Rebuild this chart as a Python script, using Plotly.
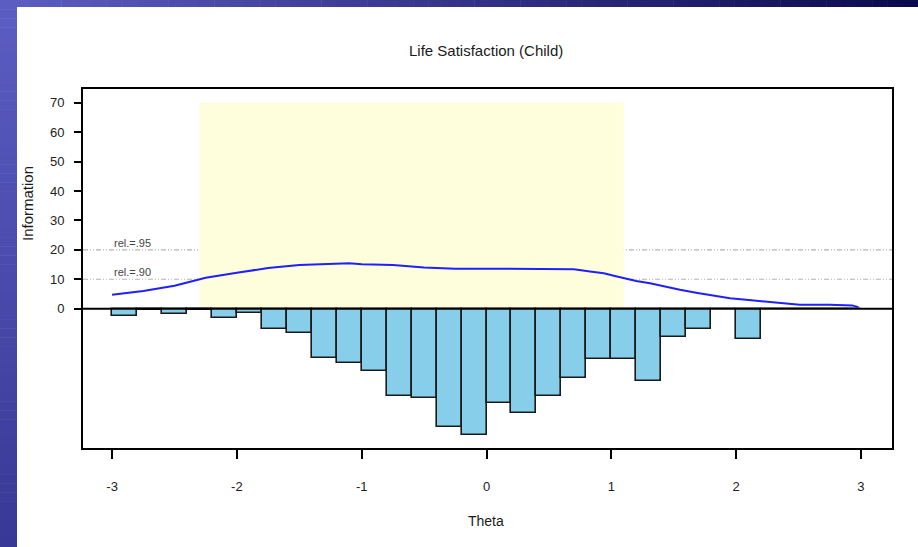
import plotly.graph_objects as go

# ---------------- data ----------------
bar_left_edges = [-3.0, -2.8, -2.6, -2.4, -2.2, -2.0, -1.8, -1.6, -1.4, -1.2,
                  -1.0, -0.8, -0.6, -0.4, -0.2, 0.0, 0.2, 0.4, 0.6, 0.8,
                  1.0, 1.2, 1.4, 1.6, 1.8, 2.0, 2.2, 2.4, 2.6, 2.8]
bar_values = [-2.4, -0.4, -1.8, -0.4, -3.3, -1.6, -6.9, -8.4, -16.7, -18.6,
              -21.2, -29.7, -30.3, -40.3, -43.1, -32.2, -35.4, -29.6, -23.7, -17.1,
              -17.1, -24.5, -9.5, -6.9, 0.0, -10.3, 0.0, 0.0, 0.0, 0.0]
bar_width = 0.2

info_theta = [-3.0, -2.75, -2.5, -2.25, -2.0, -1.75, -1.5, -1.25, -1.1, -1.0,
              -0.75, -0.5, -0.25, 0.0, 0.25, 0.5, 0.7, 0.83, 0.94, 1.02,
              1.1, 1.2, 1.31, 1.42, 1.55, 1.68, 1.82, 1.95, 2.08, 2.22,
              2.35, 2.51, 2.75, 2.93, 2.98]
info_values = [4.7, 6.0, 7.8, 10.5, 12.2, 13.8, 14.8, 15.1, 15.4, 15.1,
               14.8, 14.0, 13.6, 13.6, 13.6, 13.6, 13.4, 12.6, 12.0, 11.2,
               10.3, 9.4, 8.6, 7.5, 6.4, 5.4, 4.4, 3.5, 3.0, 2.4,
               1.8, 1.3, 1.3, 1.1, 0.5]

rel_levels = [20, 10]
rel_labels = ["rel.=.95", "rel.=.90"]
region_theta = [-2.3, 1.1]
region_info = [0, 70]

x_ticks = [-3, -2, -1, 0, 1, 2, 3]
x_tick_labels = ["-3", "-2", "-1", "0", "1", "2", "3"]
y_ticks = [0, 10, 20, 30, 40, 50, 60, 70]
y_tick_labels = ["0", "10", "20", "30", "40", "50", "60", "70"]

title_text = "Life Satisfaction (Child)"
x_title = "Theta"
y_title = "Information"

FONT = "Liberation Sans Narrow, Liberation Sans, Arial, sans-serif"

# ---------------- figure ----------------
fig = go.Figure()

bar_centers = [e + bar_width / 2 for e in bar_left_edges]
fig.add_trace(go.Bar(
    x=bar_centers, y=bar_values, width=bar_width, base=0,
    marker=dict(color="#87CEEB", line=dict(color="#1a1a1a", width=1.6)),
    showlegend=False, hoverinfo="skip"))

fig.add_trace(go.Scatter(
    x=info_theta, y=info_values, mode="lines",
    line=dict(color="#1f1fff", width=2, shape="linear"),
    showlegend=False, hoverinfo="skip"))

shapes = []
# yellow region
shapes.append(dict(type="rect", xref="x", yref="y",
                   x0=region_theta[0], x1=region_theta[1],
                   y0=region_info[0], y1=region_info[1],
                   fillcolor="#FEFEDD", line=dict(width=0), layer="below"))
# reliability lines
for lv in rel_levels:
    shapes.append(dict(type="line", xref="paper", yref="y", x0=0, x1=1, y0=lv, y1=lv,
                       line=dict(color="#b4b4b4", width=1.2, dash="5px,2px,1px,2px,1px,2px"),
                       layer="below"))
# zero line
shapes.append(dict(type="line", xref="paper", yref="y", x0=0, x1=1, y0=0, y1=0,
                   line=dict(color="black", width=2), layer="above"))

# decorative gradient border (outside the plot area)
W, H = 918, 547
L, R, T, B = 83, 26, 89, 99
pw, ph = W - L - R, H - T - B


def px_to_paper_x(px):
    return (px - L) / pw


def px_to_paper_y(py):
    return (H - B - py) / ph


def lerp(c1, c2, t):
    return "rgb(%d,%d,%d)" % tuple(round(a + (b - a) * t) for a, b in zip(c1, c2))


top_c0, top_c1 = (92, 93, 194), (12, 10, 78)
left_c0, left_c1 = (92, 93, 194), (56, 56, 150)
nseg = 60
for i in range(nseg):
    x0 = W * i / nseg
    x1 = W * (i + 1) / nseg + 0.5
    shapes.append(dict(type="rect", xref="paper", yref="paper",
                       x0=px_to_paper_x(x0), x1=px_to_paper_x(x1),
                       y0=px_to_paper_y(0), y1=px_to_paper_y(7),
                       fillcolor=lerp(top_c0, top_c1, i / (nseg - 1)),
                       line=dict(width=0), layer="below"))
for i in range(nseg):
    y0 = H * i / nseg
    y1 = H * (i + 1) / nseg + 0.5
    shapes.append(dict(type="rect", xref="paper", yref="paper",
                       x0=px_to_paper_x(0), x1=px_to_paper_x(17),
                       y0=px_to_paper_y(y0), y1=px_to_paper_y(y1),
                       fillcolor=lerp(left_c0, left_c1, i / (nseg - 1)),
                       line=dict(width=0), layer="below"))

annotations = []
for lv, lab in zip(rel_levels, rel_labels):
    annotations.append(dict(x=-3.0, y=lv, xref="x", yref="y", text=lab,
                            showarrow=False, xanchor="left", yanchor="bottom",
                            yshift=-1, font=dict(family=FONT, size=11, color="#444")))
annotations.append(dict(x=px_to_paper_x(486), y=px_to_paper_y(50), xref="paper", yref="paper",
                        text=title_text, showarrow=False, xanchor="center", yanchor="middle",
                        font=dict(family=FONT, size=15, color="#1a1a1a")))
annotations.append(dict(x=px_to_paper_x(486), y=px_to_paper_y(521), xref="paper", yref="paper",
                        text=x_title, showarrow=False, xanchor="center", yanchor="middle",
                        font=dict(family=FONT, size=14, color="#1a1a1a")))
annotations.append(dict(x=px_to_paper_x(27), y=px_to_paper_y(204), xref="paper", yref="paper",
                        text=y_title, showarrow=False, xanchor="center", yanchor="middle",
                        textangle=-90, font=dict(family=FONT, size=15, color="#1a1a1a")))

fig.update_layout(
    width=W, height=H,
    margin=dict(l=L, r=R, t=T, b=B),
    paper_bgcolor="white", plot_bgcolor="white",
    bargap=0, shapes=shapes, annotations=annotations,
    font=dict(family=FONT, size=13, color="#222"),
)
fig.update_xaxes(range=[-3.233, 3.249], tickvals=x_ticks, ticktext=x_tick_labels,
                 ticks="outside", ticklen=9,
                 tickwidth=1.5, tickcolor="black", showgrid=False, zeroline=False,
                 showline=True, linecolor="black", linewidth=1.8, mirror=True,
                 ticklabelstandoff=16, tickfont=dict(family=FONT, size=13, color="#222"))
fig.update_yaxes(range=[-47.4, 74.7], tickvals=y_ticks, ticktext=y_tick_labels,
                 ticks="outside", ticklen=7,
                 tickwidth=1.5, tickcolor="black", showgrid=False, zeroline=False,
                 showline=True, linecolor="black", linewidth=1.8, mirror=True,
                 ticklabelstandoff=7, tickfont=dict(family=FONT, size=13, color="#222"))

fig.write_html("out.html", config={"displayModeBar": False},
               post_script="document.body.style.margin='0';")
